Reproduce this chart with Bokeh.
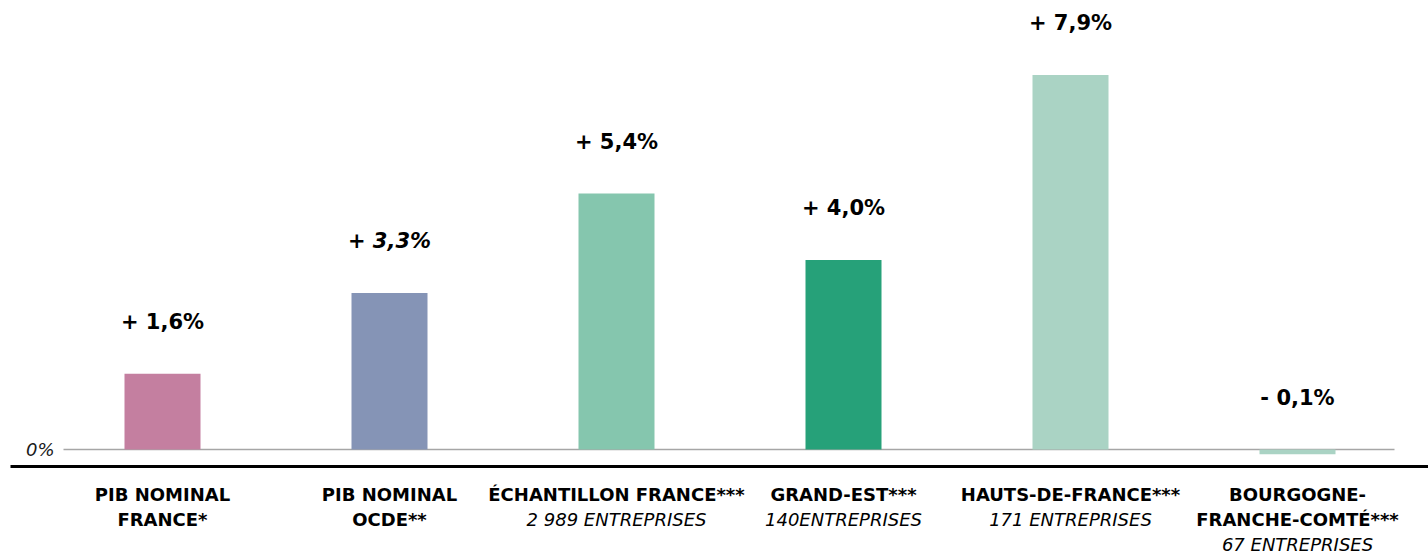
from bokeh.plotting import figure
from bokeh.models import ColumnDataSource
from bokeh.core.properties import value
from bokeh.embed import file_html
from bokeh.resources import INLINE

# ---- data ----
cat_titles = ["PIB NOMINAL\nFRANCE*", "PIB NOMINAL\nOCDE**", "ÉCHANTILLON FRANCE***",
              "GRAND-EST***", "HAUTS-DE-FRANCE***", "BOURGOGNE-\nFRANCHE-COMTÉ***"]
cat_subtitles = ["", "", "2 989 ENTREPRISES", "140ENTREPRISES", "171 ENTREPRISES", "67 ENTREPRISES"]
values = [1.6, 3.3, 5.4, 4.0, 7.9, -0.1]
value_labels = ["+ 1,6%", "+ 3,3%", "+ 5,4%", "+ 4,0%", "+ 7,9%", "- 0,1%"]
value_styles = ["bold", "bold italic", "bold", "bold", "bold", "bold"]
colors = ["#C47FA0", "#8594B6", "#85C6AE", "#26A179", "#AAD3C4", "#AAD3C4"]
zero_label = "0%"

# ---- layout ----
W, H = 1428, 556
PX_PER_UNIT = 47.4
X_STEP = 227.0
xs = list(range(len(values)))
x_start = (0 - 162) / X_STEP
x_end = x_start + W / X_STEP
y_end = 449 / PX_PER_UNIT
y_start = y_end - H / PX_PER_UNIT

p = figure(width=W, height=H, x_range=(x_start, x_end), y_range=(y_start, y_end),
           output_backend="svg", toolbar_location=None, min_border=0)
p.axis.visible = False
p.grid.visible = False
p.outline_line_color = None
p.background_fill_color = "white"

FONT = "DejaVu Sans"

# baseline (0%) gray line
gl_x0 = (63 - 162) / X_STEP
gl_x1 = (1394 - 162) / X_STEP
p.segment(x0=[gl_x0], y0=[0], x1=[gl_x1], y1=[0], line_color="#A6A6A6", line_width=1.5)

# bars
src = ColumnDataSource(dict(x=xs, top=values, color=colors,
                            ly=[max(v, 0) for v in values], lab=value_labels, st=value_styles))
p.vbar(x="x", top="top", bottom=0, width=76 / X_STEP, fill_color="color", line_color=None, source=src)

# value labels
p.text(x="x", y="ly", text="lab", source=src, text_font=value(FONT), text_font_size="21px",
       text_font_style="st", text_align="center", text_baseline="middle", y_offset=-52,
       text_color="#000000")

# 0% label
p.text(x=[gl_x0], y=[0], text=[zero_label], text_font=value(FONT), text_font_size="18px",
       text_font_style="italic", text_align="right", text_baseline="middle", x_offset=-9,
       text_color="#1a1a1a")

# thick black axis line
bl_x0 = (10 - 162) / X_STEP
p.segment(x0=[bl_x0], y0=[-17 / PX_PER_UNIT], x1=[x_end], y1=[-17 / PX_PER_UNIT],
          line_color="#000000", line_width=3)

# category labels, one row per text line
rx, rt, ro, rs = [], [], [], []
for i, (t, s) in enumerate(zip(cat_titles, cat_subtitles)):
    lines = [(ln, "bold") for ln in t.split("\n")]
    if s:
        lines.append((s, "italic"))
    for k, (ln, style) in enumerate(lines):
        rx.append(i)
        rt.append(ln)
        ro.append(45 + 25 * k)
        rs.append(style)
csrc = ColumnDataSource(dict(x=rx, y=[0] * len(rx), t=rt, o=ro, s=rs))
p.text(x="x", y="y", text="t", y_offset="o", text_font_style="s", source=csrc,
       text_font=value(FONT), text_font_size="18px", text_align="center",
       text_baseline="middle", text_color="#000000")

open("out.html", "w").write(file_html(p, INLINE))
